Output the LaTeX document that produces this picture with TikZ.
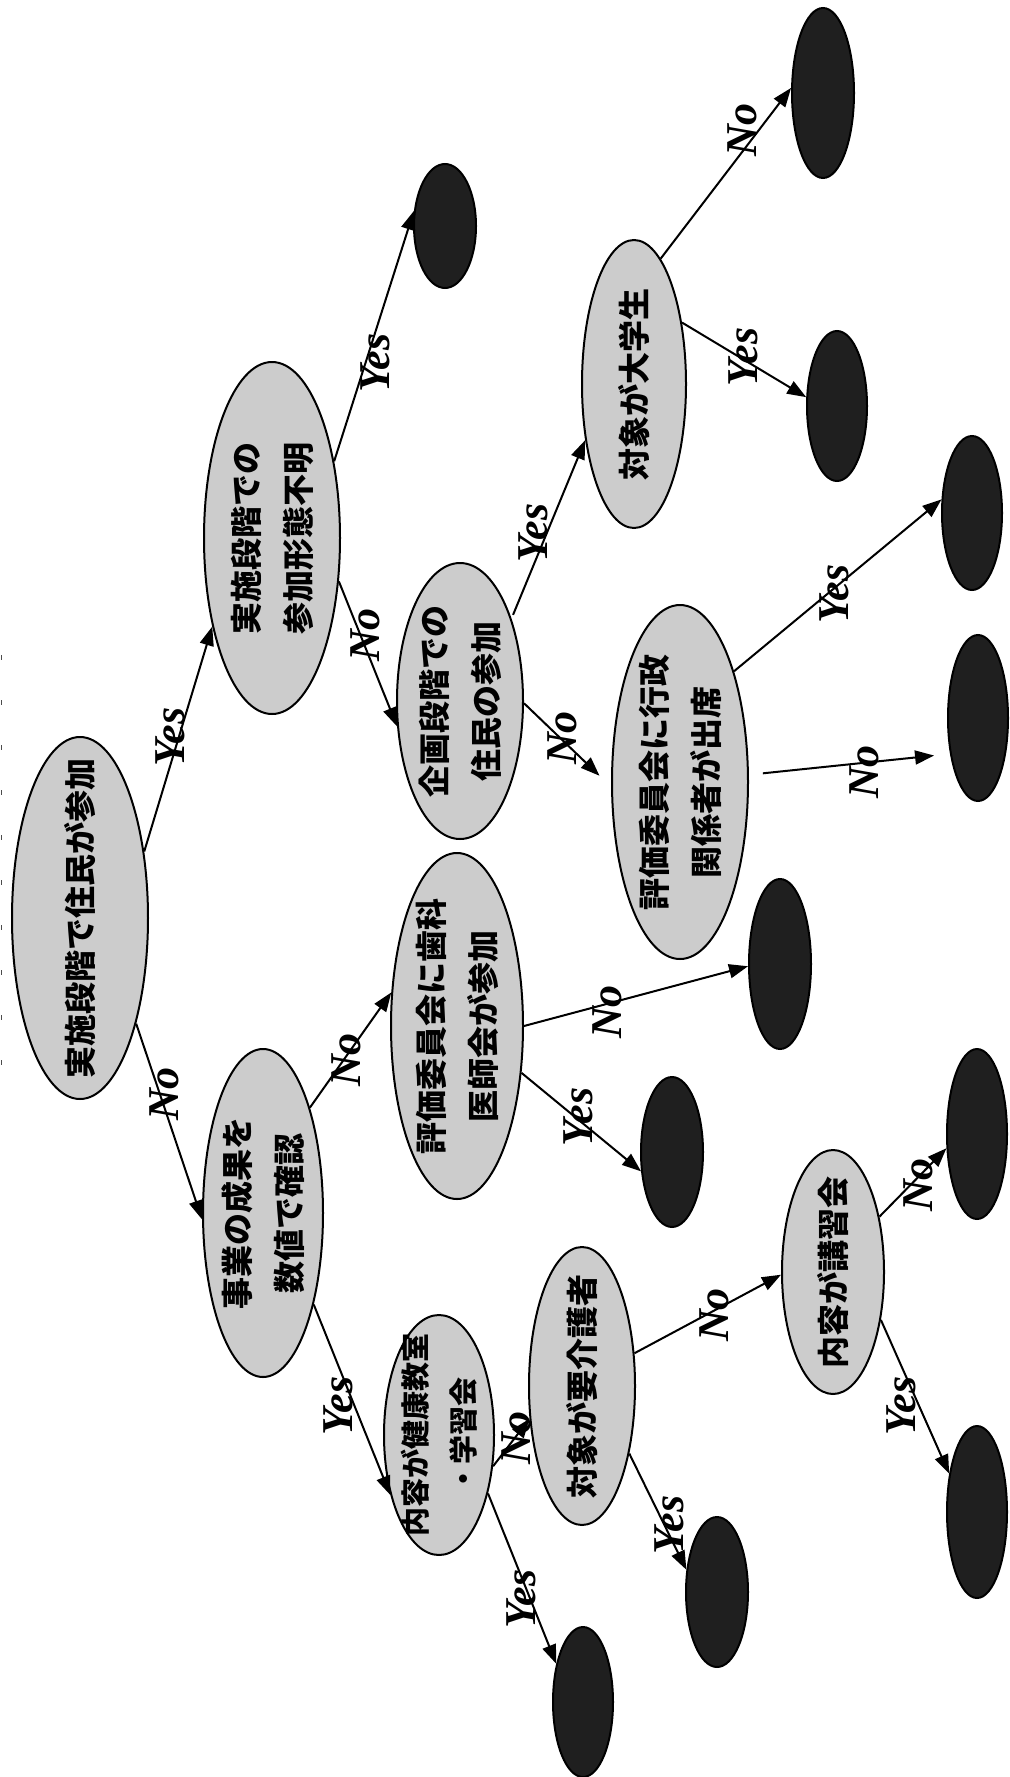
\documentclass[tikz,border=0pt]{standalone}
\usepackage{fontspec}
\setmainfont{Liberation Serif}
\newfontfamily\cjk{Noto Sans CJK JP}
\usetikzlibrary{shapes.geometric,arrows.meta}
\begin{document}
\begin{tikzpicture}[x=1pt,y=-1pt,
  q/.style={ellipse,draw,line width=2pt,fill=black!20,inner sep=0pt},
  leaf/.style={ellipse,draw,line width=2pt,fill=black!88,inner sep=0pt},
  txt/.style={rotate=90,align=center,inner sep=0pt,font=\cjk\bfseries\fontsize{32}{52}\selectfont},
  arr/.style={line width=2pt,-{Triangle[length=19pt,width=14pt]}},
  lab/.style={rotate=90,inner sep=0pt,font=\bfseries\itshape\fontsize{44}{44}\selectfont}]
\useasboundingbox (0,0) rectangle (1009,1777);
\draw[black!70,line width=1.5pt,dash pattern=on 5pt off 40pt] (1.5,655) -- (1.5,1075);
% decision nodes
\node[q,minimum width=136pt,minimum height=362pt] (root) at (80,918) {};
\node[q,minimum width=136pt,minimum height=352pt] (n2) at (272,538) {};
\node[q,minimum width=120pt,minimum height=328pt] (n3) at (263,1213) {};
\node[q,minimum width=126pt,minimum height=276pt] (n4) at (460,701) {};
\node[q,minimum width=132pt,minimum height=346pt] (n5) at (457,1026) {};
\node[q,minimum width=104pt,minimum height=288pt] (n6) at (634,384) {};
\node[q,minimum width=136pt,minimum height=354pt] (n7) at (680,782) {};
\node[q,minimum width=110pt,minimum height=240pt] (n8) at (439,1435) {};
\node[q,minimum width=106pt,minimum height=278pt] (n9) at (582,1386) {};
\node[q,minimum width=102pt,minimum height=244pt] (n10) at (833,1272) {};
\node[txt] (t1) at (root) {実施段階で住民が参加};
\node[txt] (t2) at (n2) {実施段階での\\参加形態不明};
\node[txt] (t3) at (n3) {事業の成果を\\数値で確認};
\node[txt] (t4) at (n4) {企画段階での\\住民の参加};
\node[txt] (t5) at (n5) {評価委員会に歯科\\医師会が参加};
\node[txt] (t6) at (n6) {対象が大学生};
\node[txt] (t7) at (n7) {評価委員会に行政\\関係者が出席};
\node[txt,font=\cjk\bfseries\fontsize{29}{48}\selectfont] (t8) at (n8) {内容が健康教室\\・学習会};
\node[txt] (t9) at (n9) {対象が要介護者};
\node[txt] (t10) at (n10) {内容が講習会};
% leaves
\node[leaf,minimum width=62pt,minimum height=124pt] (L1) at (445,226) {};
\node[leaf,minimum width=62pt,minimum height=170pt] (L2) at (823,93) {};
\node[leaf,minimum width=60pt,minimum height=150pt] (L3) at (837,406) {};
\node[leaf,minimum width=60pt,minimum height=154pt] (L4) at (972,513) {};
\node[leaf,minimum width=60pt,minimum height=166pt] (L5) at (978,718) {};
\node[leaf,minimum width=62pt,minimum height=170pt] (L6) at (780,964) {};
\node[leaf,minimum width=62pt,minimum height=150pt] (L7) at (672,1152) {};
\node[leaf,minimum width=60pt,minimum height=150pt] (L8) at (583,1702) {};
\node[leaf,minimum width=62pt,minimum height=150pt] (L9) at (717,1592) {};
\node[leaf,minimum width=60pt,minimum height=170pt] (L10) at (977,1134) {};
\node[leaf,minimum width=60pt,minimum height=172pt] (L11) at (977,1512) {};
% connectors
\draw[arr] (root.46) -- (n2.236);
\draw[arr] (root.298) -- (n3.186);
\draw[arr] (n2.51) -- (L1.154);
\draw[arr] (n2.327) -- (n4.202);
\draw[arr,shorten <=4pt] (n4.58) -- (n6.229);
\draw[arr,shorten >=16pt] (n4.358) -- (n7.184);
\draw[arr] (n6.52) -- (L3.164);
\draw[arr] (n6.78) -- (L2.171);
\draw[arr] (n7.64) -- (L4.156);
\draw[arr,shorten <=14pt,shorten >=16pt] (n7.6) -- (L5.232);
\draw[arr] (n3.66) -- (n5.153);
\draw[arr] (n3.299) -- (n8.231);
\draw[arr] (n5.324) -- (L7.212);
\draw[arr] (n5.0) -- (L6.184);
\draw[arr] (n8.330) -- (n9.212);
\draw[arr] (n8.310) -- (L8.125);
\draw[arr] (n9.32) -- (n10.183);
\draw[arr] (n9.305) -- (L9.144);
\draw[arr] (n10.50) -- (L10.205);
\draw[arr] (n10.315) -- (L11.126);
% labels
\node[lab] (y1) at (170,737) {Yes};
\node[lab] (o1) at (164,1094) {No};
\node[lab] (y2) at (375,363) {Yes};
\node[lab] (o2) at (365,635) {No};
\node[lab] (y3) at (533,533) {Yes};
\node[lab] (o3) at (562,738) {No};
\node[lab] (y4) at (743,357) {Yes};
\node[lab] (o4) at (742,130) {No};
\node[lab] (y5) at (834,594) {Yes};
\node[lab] (o5) at (864,772) {No};
\node[lab] (o6) at (346,1060) {No};
\node[lab] (y6) at (338,1406) {Yes};
\node[lab] (y7) at (578,1117) {Yes};
\node[lab] (o7) at (607,1012) {No};
\node[lab] (y8) at (521,1599) {Yes};
\node[lab] (o8) at (516,1438) {No};
\node[lab] (y9) at (669,1525) {Yes};
\node[lab] (o9) at (714,1315) {No};
\node[lab] (y10) at (901,1406) {Yes};
\node[lab] (o10) at (918,1185) {No};
\end{tikzpicture}
\end{document}
